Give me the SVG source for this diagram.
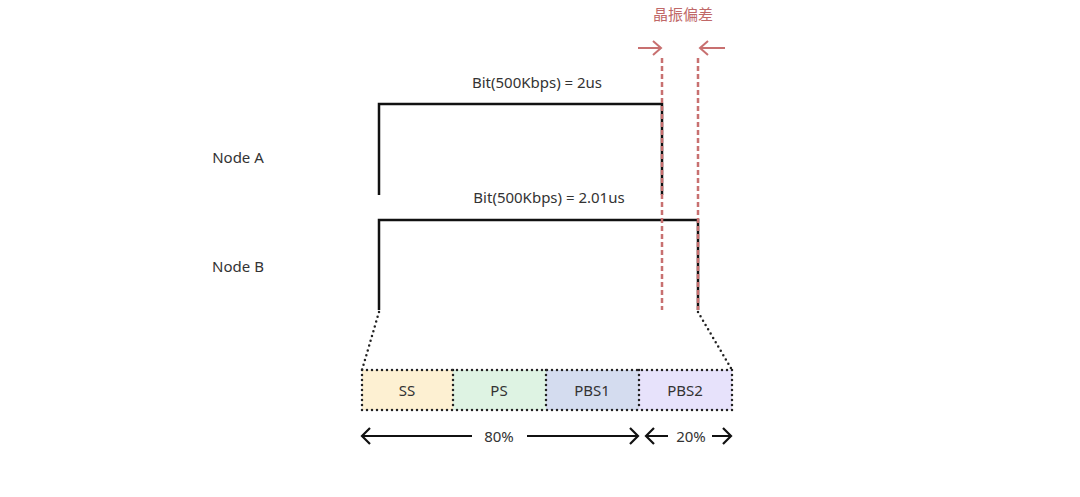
<svg xmlns="http://www.w3.org/2000/svg" width="1080" height="497" viewBox="0 0 1080 497">
<style>
text{font-family:"Noto Sans","Open Sans",sans-serif;font-size:15px;fill:#333}
.w{fill:none;stroke:#111;stroke-width:2.5}
.r{stroke:#c87070;stroke-width:2.5;stroke-dasharray:5 3;fill:none}
.d{stroke:#222;stroke-width:2.5;stroke-dasharray:0 5;stroke-linecap:round;fill:none}
.a{stroke:#111;stroke-width:2.2;fill:none}
.ra{stroke:#c87070;stroke-width:2;fill:none}
</style>
<rect width="1080" height="497" fill="#fff"/>
<g id="labels">
<text x="238" y="163" text-anchor="middle">Node A</text>
<text x="238" y="272" text-anchor="middle">Node B</text>
<text x="537" y="88" text-anchor="middle">Bit(500Kbps) = 2us</text>
<text x="549" y="203" text-anchor="middle">Bit(500Kbps) = 2.01us</text>
<text x="683" y="20" text-anchor="middle" style="fill:#c06868;font-family:'Noto Sans CJK SC',sans-serif">晶振偏差</text>
</g>
<g id="nodeA"><path class="w" d="M379 195V104H662V195"/></g>
<g id="nodeB"><path class="w" d="M379 310V220H698V310"/></g>
<g id="segments">
<rect x="362" y="370" width="91" height="40" fill="#fdf0d2"/>
<rect x="453" y="370" width="93" height="40" fill="#def3e3"/>
<rect x="546" y="370" width="93" height="40" fill="#d4dcef"/>
<rect x="639" y="370" width="93" height="40" fill="#e7e2fb"/>
<path class="d" d="M362 370H732V410H362Z M453 370V410 M546 370V410 M639 370V410"/>
<text x="407" y="396" text-anchor="middle">SS</text>
<text x="499" y="396" text-anchor="middle">PS</text>
<text x="592" y="396" text-anchor="middle">PBS1</text>
<text x="685" y="396" text-anchor="middle">PBS2</text>
</g>
<g id="connectors">
<path class="r" d="M662 58V310 M698 58V310"/>
<path class="ra" d="M638 48H661 M653 41L661 48L653 55 M725 48H700 M708 41L700 48L708 55"/>
<path class="d" d="M379 312L362 370 M698 312L732 370"/>
<path class="a" d="M362 436H472 M370 428L362 436L370 444 M527 436H638 M630 428L638 436L630 444"/>
<path class="a" d="M646 436H668 M654 428L646 436L654 444 M712 436H731 M723 428L731 436L723 444"/>
<text x="499" y="442" text-anchor="middle">80%</text>
<text x="691" y="442" text-anchor="middle">20%</text>
</g>
</svg>
